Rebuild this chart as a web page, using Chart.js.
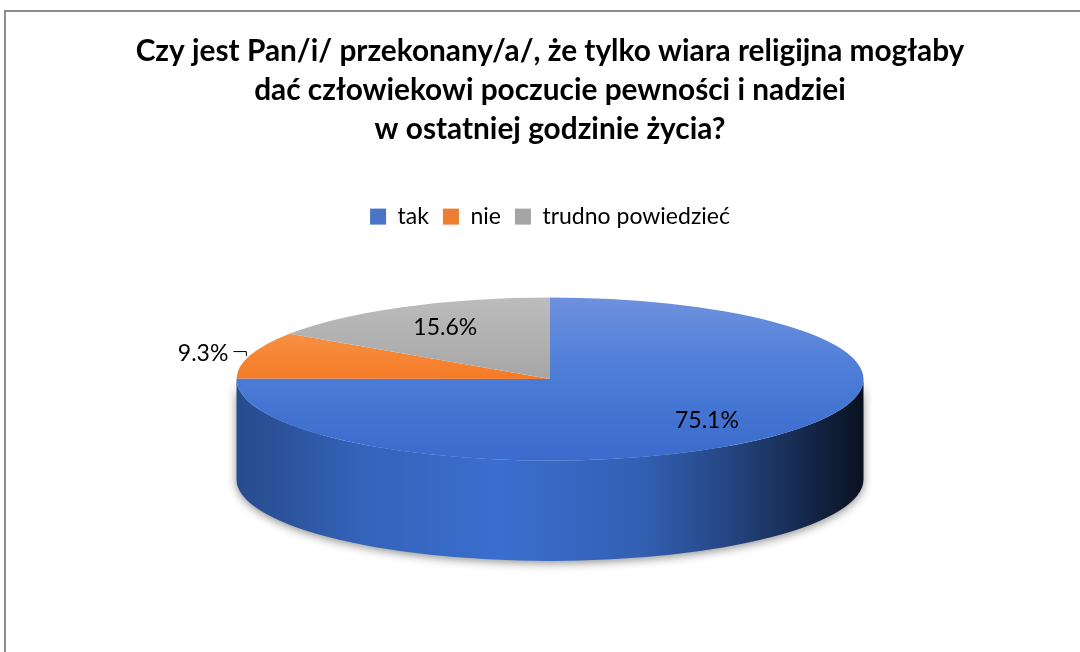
<!DOCTYPE html>
<html>
<head>
<meta charset="utf-8">
<script src="https://cdn.jsdelivr.net/npm/chart.js@4.4.0/dist/chart.umd.min.js"></script>
<style>
    html, body { margin: 0; padding: 0; background: #fff; overflow: hidden; }
    #wrap { position: relative; width: 1080px; height: 652px; }
    #frame { position: absolute; left: 4px; top: 10px; width: 1100px; height: 660px;
             border-left: 2px solid #8c8c8c; border-top: 2px solid #8c8c8c; }
    #pieChart { position: absolute; left: 0; top: 0; }
</style>
</head>
<body>
<div id="wrap">
    <div id="frame"></div>
    <canvas id="pieChart" width="1080" height="652"></canvas>
</div>
<script>
// ===================================
// DANE
// ===================================
const categories = ['tak', 'nie', 'trudno powiedzieć'];
const shares = [75.1, 9.3, 15.6];
const titleLines = [
    'Czy jest Pan/i/ przekonany/a/, że tylko wiara religijna mogłaby',
    'dać człowiekowi poczucie pewności i nadziei',
    'w ostatniej godzinie życia?'
];

// kolory
const baseColors = ['#4a74c8', '#ed7d31', '#a5a5a5'];
const topShades = [
    [[0, '#6e91de'], [0.5, '#4a7bd6'], [1, '#3a6bcd']],
    [[0, '#fba25c'], [0.5, '#f47a26'], [1, '#f06a10']],
    [[0, '#bcbcbc'], [0.5, '#a6a6a6'], [1, '#999999']]
];
const sideColors = ['#3a6ecf', '#e06a20', '#959595'];
// cieniowanie boku (mnożnik jasności wzdłuż szerokości)
const sideShade = [[0, 0.68], [0.08, 0.76], [0.2, 0.9], [0.42, 1], [0.65, 0.86], [0.8, 0.6], [0.9, 0.38], [1, 0.15]];

const PIE_SCALE = 0.5915; // szerokość placka względem obszaru wykresu
const TILT = 0.26;        // spłaszczenie elipsy
const DEPTH = 0.32;       // grubość placka względem promienia

function shade(hex, k) {
    const n = parseInt(hex.slice(1), 16);
    const r = Math.round(((n >> 16) & 255) * k);
    const g = Math.round(((n >> 8) & 255) * k);
    const b = Math.round((n & 255) * k);
    return 'rgb(' + r + ',' + g + ',' + b + ')';
}

// ===================================
// PLUGIN 3D
// ===================================
const pie3d = {
    id: 'pie3d',
    beforeDatasetsDraw(chart) {
        const meta = chart.getDatasetMeta(0);
        const first = meta.data[0];
        const cx = first.x, cy = first.y, r = first.outerRadius;
        const rx = PIE_SCALE * chart.chartArea.width / 2;
        const sx = rx / r;
        const ry = rx * TILT, depth = rx * DEPTH;
        const ctx = chart.ctx;

        meta.data.forEach(function(arc, i) {
            for (const k of [-2, 0, 2]) {
                const s = Math.max(arc.startAngle + k * Math.PI, 0);
                const e = Math.min(arc.endAngle + k * Math.PI, Math.PI);
                if (e <= s) continue;
                const grad = ctx.createLinearGradient(cx - rx, 0, cx + rx, 0);
                sideShade.forEach(function(st) { grad.addColorStop(st[0], shade(sideColors[i], st[1])); });
                ctx.save();
                ctx.shadowColor = 'rgba(0,0,0,0.45)';
                ctx.shadowBlur = 10;
                ctx.shadowOffsetY = 2;
                ctx.beginPath();
                ctx.ellipse(cx, cy, rx, ry, 0, s, e);
                ctx.lineTo(cx + rx * Math.cos(e), cy + depth + ry * Math.sin(e));
                ctx.ellipse(cx, cy + depth, rx, ry, 0, e, s, true);
                ctx.closePath();
                ctx.fillStyle = grad;
                ctx.fill();
                ctx.restore();
            }
        });

        ctx.save();
        ctx.translate(cx, cy);
        ctx.scale(sx, sx * TILT);
        ctx.translate(-cx, -cy);
    },
    afterDatasetsDraw(chart) {
        const ctx = chart.ctx;
        ctx.restore();

        const meta = chart.getDatasetMeta(0);
        const first = meta.data[0];
        const cx = first.x, cy = first.y;
        const rx = PIE_SCALE * chart.chartArea.width / 2, ry = rx * TILT;

        ctx.save();
        ctx.font = '23px Lato';
        ctx.fillStyle = '#000';
        ctx.strokeStyle = '#000';
        ctx.lineWidth = 1;
        ctx.textBaseline = 'middle';
        meta.data.forEach(function(arc, i) {
            const mid = (arc.startAngle + arc.endAngle) / 2;
            const txt = shares[i].toFixed(1) + '%';
            if (shares[i] >= 10) {
                ctx.textAlign = 'center';
                ctx.fillText(txt, cx + Math.cos(mid) * rx * 0.71, cy + Math.sin(mid) * ry * 0.72);
            } else {
                const ex = cx + Math.cos(mid) * rx;
                const ey = cy + Math.sin(mid) * ry;
                ctx.beginPath();
                ctx.moveTo(ex - 17, ey - 3.5);
                ctx.lineTo(ex - 4, ey - 3.5);
                ctx.lineTo(ex - 4, ey + 1);
                ctx.stroke();
                ctx.textAlign = 'right';
                ctx.fillText(txt, ex - 22, ey - 2);
            }
        });
        ctx.restore();
    }
};

// ===================================
// WYKRES
// ===================================
document.addEventListener('DOMContentLoaded', function() {
    const ctx = document.getElementById('pieChart').getContext('2d');

    const data = {
        labels: categories,
        datasets: [{
            data: shares,
            borderWidth: 0,
            clip: false,
            backgroundColor: function(context) {
                const ca = context.chart.chartArea;
                const i = context.dataIndex;
                if (!ca) return baseColors[i];
                const g = context.chart.ctx.createLinearGradient(0, ca.top, 0, ca.bottom);
                topShades[i].forEach(function(st) { g.addColorStop(st[0], st[1]); });
                return g;
            }
        }]
    };

    new Chart(ctx, {
        type: 'pie',
        data: data,
        plugins: [pie3d],
        options: {
            responsive: false,
            animation: false,
            events: [],
            rotation: 0,
            layout: {
                padding: { left: 20, right: 0, top: 0, bottom: 132 }
            },
            plugins: {
                title: {
                    display: true,
                    text: titleLines,
                    color: '#000',
                    font: { family: 'Lato', size: 29.8, weight: 'bold', lineHeight: 1.31 },
                    padding: { top: 32, bottom: 42 }
                },
                legend: {
                    position: 'top',
                    labels: {
                        boxWidth: 16,
                        boxHeight: 16,
                        padding: 14,
                        color: '#000',
                        font: { family: 'Lato', size: 23 },
                        generateLabels: function(chart) {
                            return categories.map(function(c, i) {
                                return { text: c, fillStyle: baseColors[i], strokeStyle: baseColors[i], lineWidth: 0, index: i };
                            });
                        }
                    }
                },
                tooltip: { enabled: false }
            }
        }
    });
});
</script>
</body>
</html>
